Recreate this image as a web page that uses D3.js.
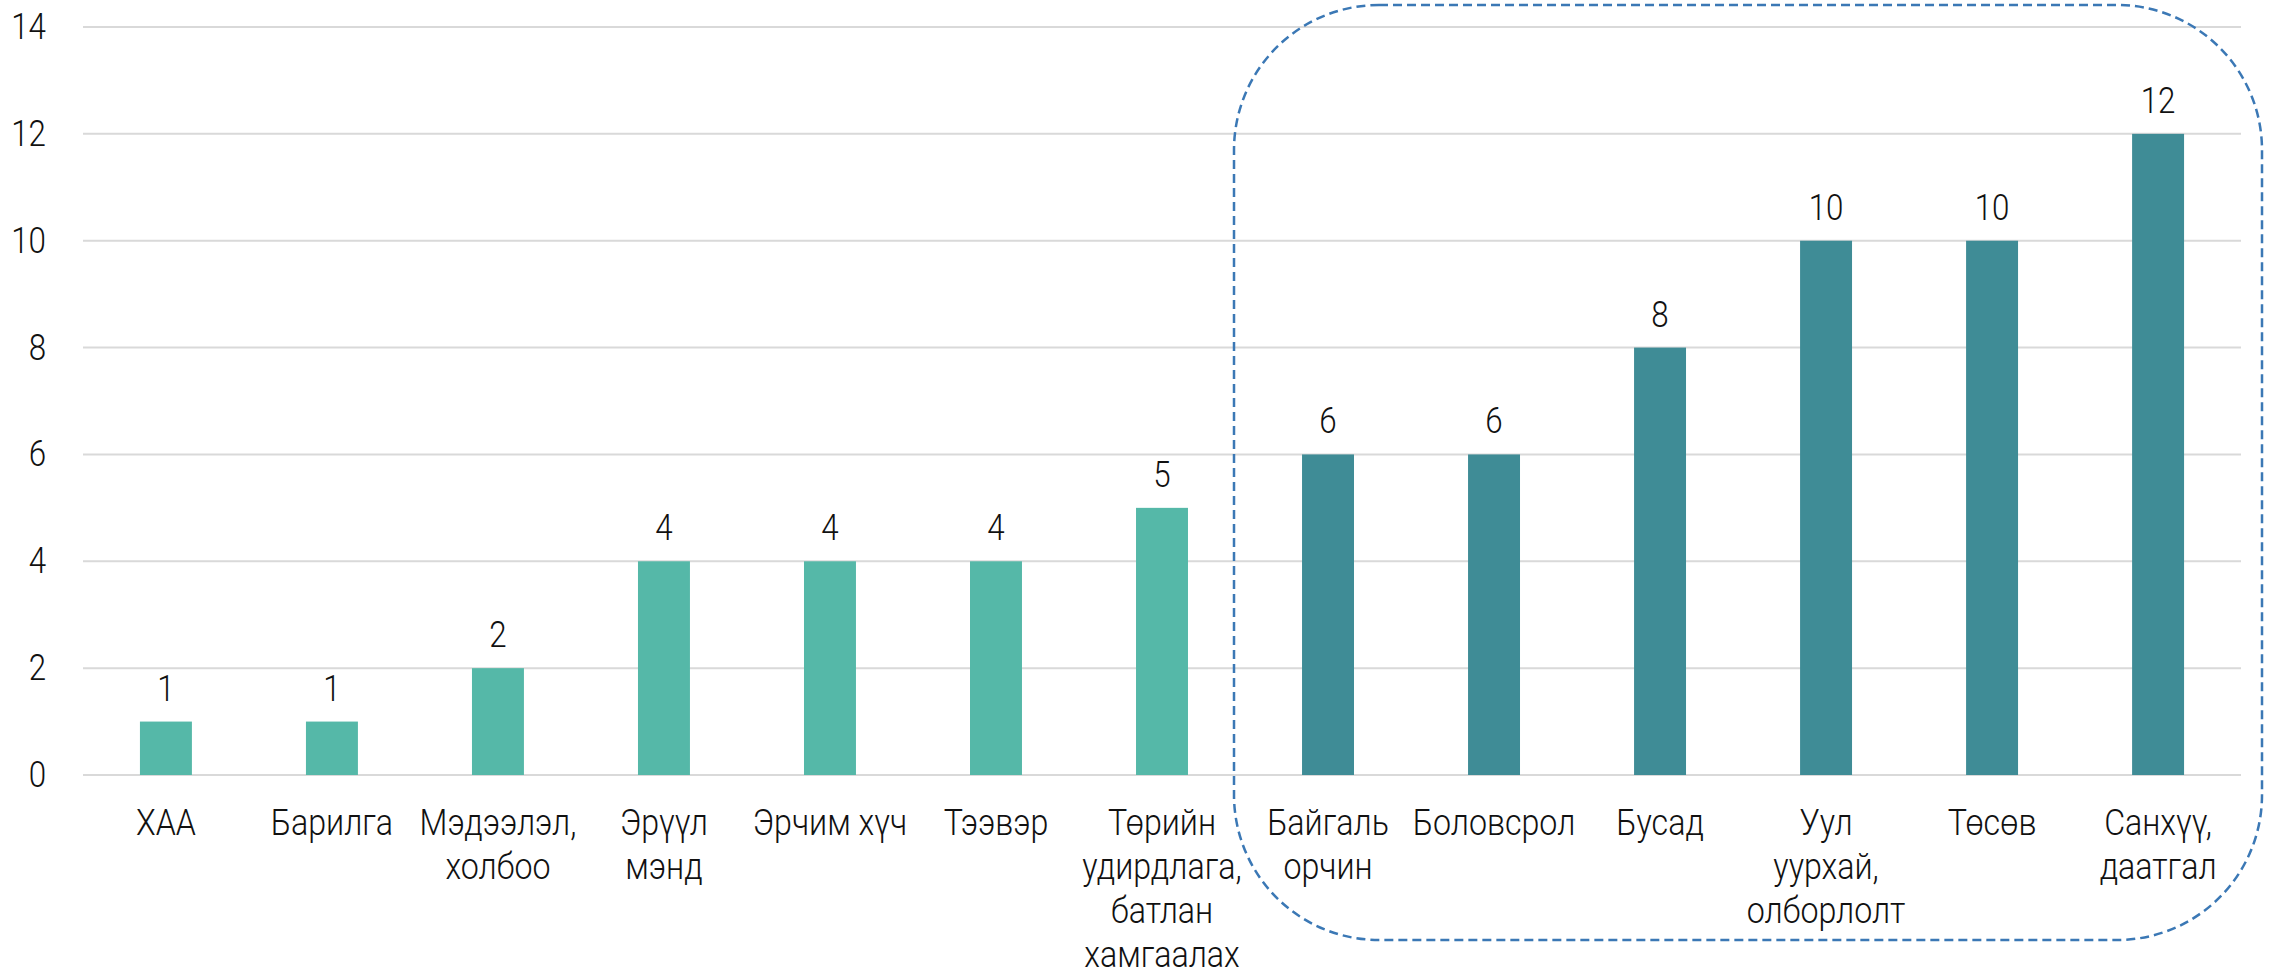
<!DOCTYPE html>
<html>
<head>
<meta charset="utf-8">
<script src="https://cdn.jsdelivr.net/npm/d3@7"></script>
<style>
  body { margin: 0; background: #fff; }
  svg text { font-family: Roboto, "Noto Sans", sans-serif; font-weight: 300; fill: #111; }
</style>
</head>
<body>
<div id="chart"></div>
<script>
// chart data
var categories = ["ХАА", "Барилга", "Мэдээлэл,\nхолбоо", "Эрүүл\nмэнд", "Эрчим хүч", "Тээвэр",
                  "Төрийн\nудирдлага,\nбатлан\nхамгаалах", "Байгаль\nорчин", "Боловсрол", "Бусад",
                  "Уул\nуурхай,\nолборлолт", "Төсөв", "Санхүү,\nдаатгал"];
var values = [1, 1, 2, 4, 4, 4, 5, 6, 6, 8, 10, 10, 12];
var highlighted = [false, false, false, false, false, false, false, true, true, true, true, true, true];
var yTicks = [0, 2, 4, 6, 8, 10, 12, 14];

var width = 2280, height = 974;
var margin = {top: 27, right: 39, bottom: 199, left: 83};
var innerW = width - margin.left - margin.right,
    innerH = height - margin.top - margin.bottom;
var squeeze = 0.87; // fake a condensed font

var svg = d3.select("#chart").append("svg")
            .attr("width", width)
            .attr("height", height);

var g = svg.append("g")
           .attr("transform", "translate(" + margin.left + "," + margin.top + ")");

var x = d3.scaleBand()
          .domain(d3.range(categories.length))
          .range([0, innerW])
          .paddingInner(0.687)
          .paddingOuter(0.343);

var y = d3.scaleLinear()
          .domain([0, 14])
          .range([innerH, 0]);

// grid lines
g.selectAll(".grid")
 .data(yTicks)
 .enter().append("line")
 .attr("x1", 0)
 .attr("x2", innerW)
 .attr("y1", function(d) { return y(d); })
 .attr("y2", function(d) { return y(d); })
 .attr("stroke", "#d9d9d9")
 .attr("stroke-width", 2);

// y axis labels
var yAxis = g.append("g")
             .call(d3.axisLeft(y).tickValues(yTicks).tickSize(0).tickPadding(37));
yAxis.select(".domain").remove();
yAxis.selectAll("text")
     .attr("font-family", null)
     .style("font-size", "36px")
     .attr("transform", "scale(" + squeeze + ",1)")
     .attr("x", -37 / squeeze);

// bars
g.selectAll(".bar")
 .data(values)
 .enter().append("rect")
 .attr("x", function(d, i) { return x(i); })
 .attr("width", x.bandwidth())
 .attr("y", function(d) { return y(d); })
 .attr("height", function(d) { return innerH - y(d); })
 .attr("fill", function(d, i) { return highlighted[i] ? "#3f8c96" : "#55b8a8"; });

// value labels
g.selectAll(".val")
 .data(values)
 .enter().append("text")
 .attr("transform", function(d, i) {
   return "translate(" + (x(i) + x.bandwidth() / 2) + "," + (y(d) - 21) + ") scale(" + squeeze + ",1)";
 })
 .attr("text-anchor", "middle")
 .style("font-size", "36px")
 .text(function(d) { return d; });

// category labels
var cat = g.selectAll(".cat")
           .data(categories)
           .enter().append("text")
           .attr("transform", function(d, i) {
             return "translate(" + (x(i) + x.bandwidth() / 2) + "," + (innerH + 60) + ") scale(" + squeeze + ",1)";
           })
           .attr("text-anchor", "middle")
           .style("font-size", "37px");

cat.selectAll("tspan")
   .data(function(d) { return d.split("\n"); })
   .enter().append("tspan")
   .attr("x", 0)
   .attr("dy", function(d, i) { return i ? 44 : 0; })
   .text(function(d) { return d; });

// dashed rounded box round the highlighted group
var first = highlighted.indexOf(true);
var step = x.step();
var boxX0 = x(first) - step * x.paddingInner() / 2 - 11,
    boxX1 = innerW + 21;
g.append("rect")
 .attr("x", boxX0)
 .attr("y", y(14) - 22)
 .attr("width", boxX1 - boxX0)
 .attr("height", innerH + 22 + 165)
 .attr("rx", 145)
 .attr("ry", 145)
 .attr("fill", "none")
 .attr("stroke", "#3b78b5")
 .attr("stroke-width", 2.5)
 .attr("stroke-dasharray", "9 5");
</script>
</body>
</html>
